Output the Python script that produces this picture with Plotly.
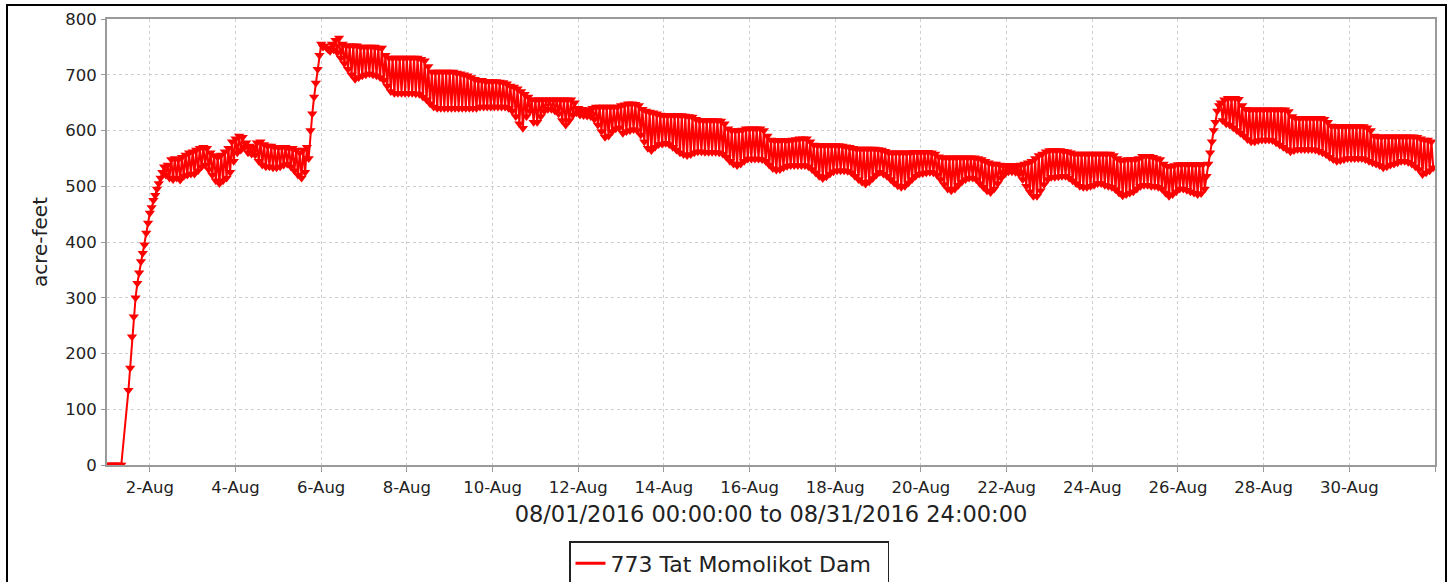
import pandas as pd
import plotly.graph_objects as go

# Hourly storage readings (acre-feet) starting 08/01/2016 00:00, one row per day (hours 0..23)
# None = no reading
storage_af = [
    # Aug 1
    0, 0, 0, 0, 0, 0, 0, 0, 0, None, None, None, 134, 174, 230, 266, 300, 326, 345, 365, 380, 395, 416, 434,
    # Aug 2
    452, 462, 475, 484, 495, 505, 515, 525, 535, 520, 538, 515, 548, 512, 550, 515, 548, 511, 552, 518, 556, 520, 560, 522,
    # Aug 3
    562, 522, 565, 528, 568, 535, 570, 538, 568, 530, 560, 520, 555, 510, 552, 505, 556, 510, 562, 515, 568, 525, 580, 545,
    # Aug 4
    585, 560, 590, 565, 588, 570, 578, 560, 572, 558, 570, 556, 578, 545, 580, 538, 575, 535, 572, 535, 572, 533, 570, 533,
    # Aug 5
    570, 535, 570, 538, 570, 540, 568, 535, 568, 528, 565, 520, 560, 515, 565, 525, 570, 550, 600, 630, 660, 685, 710, 735,
    # Aug 6
    755, 750, 752, 748, 745, 742, 755, 745, 762, 740, 766, 730, 755, 720, 752, 710, 752, 700, 752, 692, 752, 695, 750, 698,
    # Aug 7
    750, 700, 750, 702, 750, 700, 750, 698, 748, 695, 748, 690, 735, 680, 730, 670, 730, 667, 730, 667, 730, 667, 730, 667,
    # Aug 8
    730, 667, 730, 667, 730, 666, 730, 665, 728, 660, 725, 655, 715, 648, 705, 642, 705, 640, 705, 640, 705, 640, 705, 640,
    # Aug 9
    705, 640, 705, 640, 703, 640, 702, 640, 700, 640, 698, 640, 695, 640, 692, 640, 690, 642, 690, 642, 688, 642, 688, 642,
    # Aug 10
    688, 642, 688, 642, 687, 642, 686, 642, 684, 640, 680, 635, 678, 625, 675, 612, 670, 604, 665, 625, 660, 635, 655, 615,
    # Aug 11
    655, 615, 655, 625, 655, 635, 655, 638, 655, 638, 655, 635, 655, 630, 655, 618, 655, 610, 655, 618, 655, 628, 650, 632,
    # Aug 12
    640, 628, 638, 627, 637, 626, 637, 625, 640, 620, 642, 610, 642, 598, 642, 588, 642, 590, 642, 598, 642, 603, 642, 605,
    # Aug 13
    645, 595, 646, 598, 648, 600, 648, 602, 647, 600, 645, 592, 638, 580, 635, 568, 633, 564, 632, 570, 630, 575, 628, 576,
    # Aug 14
    627, 577, 627, 575, 627, 570, 627, 565, 627, 560, 627, 557, 626, 555, 625, 557, 624, 560, 620, 562, 618, 562, 618, 561,
    # Aug 15
    618, 561, 618, 561, 618, 561, 618, 560, 617, 558, 612, 552, 603, 545, 600, 540, 600, 537, 600, 540, 601, 545, 603, 549,
    # Aug 16
    603, 549, 603, 549, 603, 549, 603, 548, 600, 545, 590, 538, 583, 532, 582, 529, 582, 530, 582, 533, 582, 536, 582, 537,
    # Aug 17
    583, 537, 584, 537, 585, 537, 585, 537, 585, 535, 580, 530, 574, 524, 573, 518, 573, 514, 573, 517, 573, 522, 573, 526,
    # Aug 18
    573, 528, 573, 528, 572, 528, 571, 527, 570, 524, 568, 518, 567, 512, 567, 507, 567, 504, 567, 508, 567, 514, 567, 520,
    # Aug 19
    566, 525, 565, 522, 563, 518, 560, 512, 560, 506, 560, 501, 560, 498, 560, 500, 560, 506, 560, 512, 561, 518, 561, 522,
    # Aug 20
    561, 523, 561, 524, 561, 525, 560, 524, 558, 520, 553, 512, 551, 503, 551, 495, 551, 492, 551, 495, 551, 502, 551, 508,
    # Aug 21
    551, 512, 551, 515, 551, 515, 551, 512, 550, 505, 548, 498, 545, 492, 542, 489, 540, 495, 540, 505, 538, 515, 537, 522,
    # Aug 22
    537, 526, 537, 526, 537, 525, 537, 522, 538, 512, 540, 500, 542, 490, 545, 482, 550, 482, 555, 492, 558, 503, 562, 512,
    # Aug 23
    564, 516, 564, 516, 564, 517, 564, 518, 563, 518, 562, 515, 560, 510, 558, 505, 558, 500, 558, 498, 558, 498, 558, 500,
    # Aug 24
    558, 502, 558, 505, 558, 505, 558, 502, 558, 500, 558, 498, 555, 494, 550, 488, 546, 483, 547, 485, 548, 488, 548, 490,
    # Aug 25
    548, 495, 550, 500, 554, 502, 554, 502, 554, 500, 552, 500, 550, 498, 548, 495, 540, 488, 536, 482, 536, 485, 537, 490,
    # Aug 26
    539, 495, 539, 495, 539, 493, 539, 490, 539, 488, 539, 485, 539, 487, 539, 495, 518, 540, 560, 580, 600, 615, 635, 645,
    # Aug 27
    650, 618, 655, 612, 658, 610, 658, 605, 658, 600, 656, 595, 645, 590, 638, 584, 637, 580, 637, 580, 637, 582, 637, 583,
    # Aug 28
    637, 583, 637, 583, 637, 582, 637, 578, 637, 574, 637, 570, 637, 566, 634, 562, 625, 564, 622, 566, 622, 566, 622, 566,
    # Aug 29
    622, 566, 622, 566, 622, 565, 622, 563, 622, 560, 620, 557, 615, 552, 608, 548, 607, 545, 607, 546, 607, 548, 607, 550,
    # Aug 30
    607, 550, 607, 550, 607, 550, 607, 550, 607, 548, 605, 545, 600, 542, 590, 540, 589, 537, 589, 533, 589, 535, 589, 538,
    # Aug 31
    589, 540, 589, 542, 589, 545, 589, 545, 589, 543, 589, 540, 589, 535, 588, 530, 585, 521, 583, 524, 583, 528, 580, 533,
]
series_name = "773 Tat Momolikot Dam"
x_title = "08/01/2016 00:00:00 to 08/31/2016 24:00:00"
y_title = "acre-feet"
x_start = "2016-08-01 00:00"
x_end = "2016-09-01 00:00"
first_tick = "2016-08-02"

times = pd.date_range(x_start, periods=len(storage_af), freq="h")

FONT = "DejaVu Sans"
RED = "#ff0000"
GRID = "#cfcfcf"
AXIS = "#9a9a9a"
TXT = "#222222"

fig = go.Figure()
fig.add_trace(go.Scatter(
    x=times, y=storage_af, mode="lines+markers", connectgaps=True,
    line=dict(color=RED, width=2),
    marker=dict(symbol="triangle-down", size=9, color=RED, line=dict(width=0)),
    showlegend=False, cliponaxis=True,
))
# legend sample (line only)
fig.add_trace(go.Scatter(
    x=[None], y=[None], mode="lines", name=series_name,
    line=dict(color=RED, width=3), showlegend=True,
))

W, H = 1453, 582
L, T = 107, 19
R = W - 1435
B = H - 465
pw, ph = W - L - R, H - T - B

def px_x(x):  # page pixel -> paper
    return (x - L) / pw

def px_y(y):
    return (H - B - y) / ph

fig.update_layout(
    width=W, height=H,
    margin=dict(l=L, r=R, t=T, b=B, autoexpand=False),
    paper_bgcolor="white", plot_bgcolor="white",
    font=dict(family=FONT, color=TXT),
    legend=dict(
        x=px_x(569), y=px_y(541), xanchor="left", yanchor="top",
        orientation="h", entrywidth=272, entrywidthmode="pixels",
        bordercolor=TXT, borderwidth=1.5, bgcolor="white",
        font=dict(size=22, family=FONT, color=TXT),
        itemwidth=30,
    ),
    shapes=[dict(
        type="rect", xref="paper", yref="paper",
        x0=px_x(7), x1=px_x(1446), y0=px_y(600), y1=px_y(5),
        line=dict(color="black", width=2), fillcolor="rgba(0,0,0,0)",
        layer="below",
    )],
)

fig.update_xaxes(
    type="date", range=[x_start, x_end],
    tick0=first_tick, dtick=2 * 86400000, tickformat="%-d-%b",
    ticks="outside", ticklen=5, tickcolor=AXIS, tickwidth=1,
    ticklabelstandoff=1,
    tickfont=dict(size=16.5, family=FONT, color=TXT),
    showgrid=True, gridcolor=GRID, griddash="3px,3px", gridwidth=1,
    showline=True, linecolor=AXIS, linewidth=2, mirror=True,
    zeroline=False,
    title=dict(text=x_title, font=dict(size=22.5, family=FONT, color=TXT), standoff=10),
)
fig.update_yaxes(
    range=[0, 800], dtick=100, tick0=0,
    ticks="outside", ticklen=4, tickcolor=AXIS, tickwidth=1,
    ticklabelstandoff=1,
    tickfont=dict(size=16.5, family=FONT, color=TXT),
    showgrid=True, gridcolor=GRID, griddash="3px,3px", gridwidth=1,
    showline=True, linecolor=AXIS, linewidth=2, mirror=True,
    zeroline=False,
    title=dict(text=y_title, font=dict(size=20, family=FONT, color=TXT), standoff=12),
)

fig.write_html(
    "out.html",
    config={"displayModeBar": False},
    post_script="document.body.style.margin='0';document.body.style.overflow='hidden';",
)
